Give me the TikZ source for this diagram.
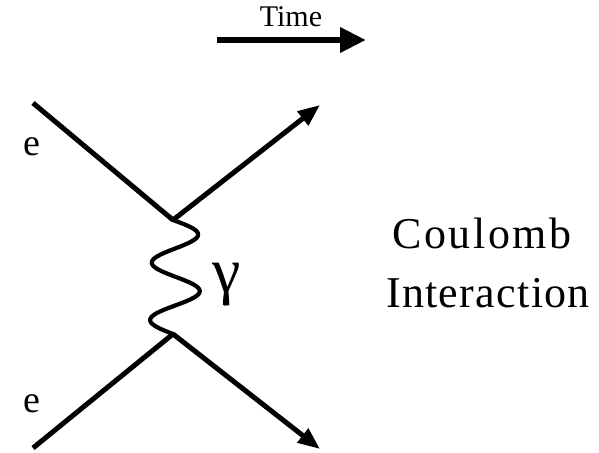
\documentclass[tikz,border=0pt]{standalone}
\usepackage{fontspec}
\setmainfont{Liberation Serif}
\usetikzlibrary{arrows.meta}
\begin{document}
\begin{tikzpicture}[x=1pt,y=-1pt,
  fermion/.style={line width=5pt},
  fermarrow/.style={line width=5pt,-{Triangle[length=22pt,width=17pt]}},
  photon/.style={line width=4.2pt,line cap=round,line join=round},
  lbl/.style={inner sep=0pt,anchor=base}]
\useasboundingbox (0,0) rectangle (599,452);
% vertices and end points
\coordinate (tl) at (33,103);
\coordinate (tr) at (320,105);
\coordinate (v1) at (173,220);
\coordinate (v2) at (173,334);
\coordinate (bl) at (33,448);
\coordinate (br) at (320,449);
\coordinate (ts) at (217,40);
\coordinate (te) at (366,40);
% electron lines
\draw[fermion] (tl) -- (v1);
\draw[fermarrow] (v1) -- (tr);
\draw[fermion] (bl) -- (v2);
\draw[fermarrow] (v2) -- (br);
% photon
\draw[photon] plot[smooth,domain=0:114,samples=80]
  ({173+3*sin(1.578947*\x)+24*sin(6.315789*\x)},{220+\x});
% time arrow
\draw[line width=6.5pt,-{Triangle[length=26pt,width=24pt]}] (ts) -- (te);
% labels
\node[lbl,font=\fontsize{30}{30}\selectfont] (time) at (291,27) {Time};
\node[lbl,font=\fontsize{38}{38}\selectfont] (e1) at (31.5,155) {e};
\node[lbl,font=\fontsize{38}{38}\selectfont] (e2) at (31.5,412) {e};
\node[lbl,font=\fontsize{64}{64}\selectfont] (g) at (227,292) {γ};
\node[lbl,font=\fontsize{44}{44}\selectfont\addfontfeature{LetterSpace=6}] (c1) at (482,248) {Coulomb};
\node[lbl,font=\fontsize{44}{44}\selectfont\addfontfeature{LetterSpace=3}] (c2) at (488,307) {Interaction};
\end{tikzpicture}
\end{document}
